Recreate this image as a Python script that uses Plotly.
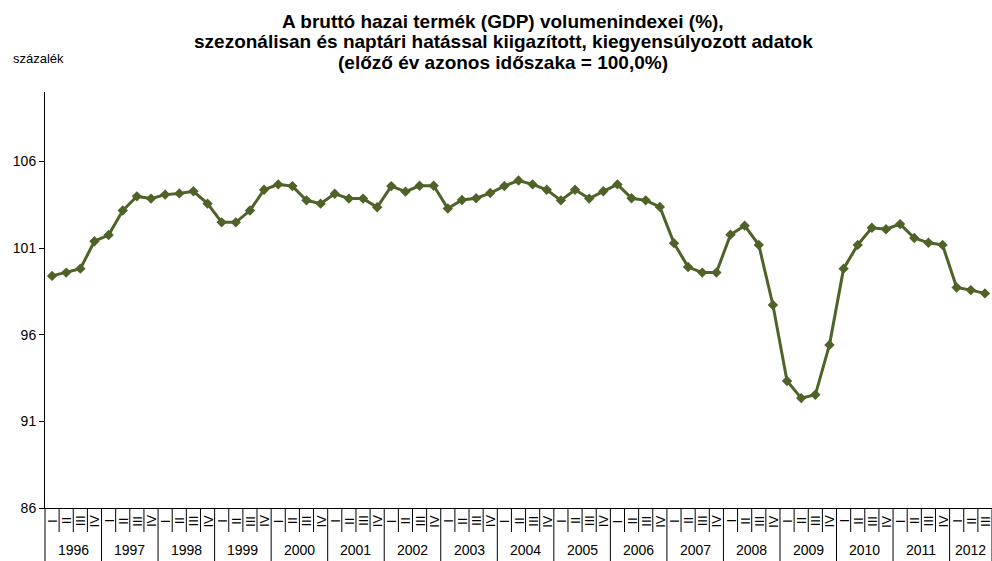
import plotly.graph_objects as go

years = [str(y) for y in range(1996, 2013)]
quarter_labels = ["I", "II", "III", "IV"]
n_quarters_last_year = 3

gdp_index = [
    99.39, 99.58, 99.81, 101.39,
    101.75, 103.16, 103.98, 103.85,
    104.08, 104.15, 104.27, 103.56,
    102.48, 102.48, 103.16, 104.36,
    104.67, 104.57, 103.75, 103.56,
    104.13, 103.85, 103.85, 103.35,
    104.57, 104.25, 104.59, 104.59,
    103.28, 103.77, 103.87, 104.17,
    104.57, 104.89, 104.67, 104.36,
    103.75, 104.36, 103.85, 104.27,
    104.67, 103.87, 103.75, 103.37,
    101.28, 99.90, 99.58, 99.58,
    101.77, 102.29, 101.18, 97.71,
    93.33, 92.34, 92.53, 95.41,
    99.81, 101.18, 102.17, 102.08,
    102.38, 101.58, 101.30, 101.18,
    98.72, 98.57, 98.38,
]

y_ticks = [86, 91, 96, 101, 106]

title_lines = [
    "A bruttó hazai termék (GDP) volumenindexei (%),",
    "szezonálisan és naptári hatással kiigazított, kiegyensúlyozott adatok",
    "(előző év azonos időszaka = 100,0%)",
]
y_unit_label = "százalék"

# build category structure
cat_year = []
cat_quarter = []
for yi, yr in enumerate(years):
    nq = 4 if yi < len(years) - 1 else n_quarters_last_year
    for q in range(nq):
        cat_year.append(yr)
        cat_quarter.append(quarter_labels[q])
x_idx = list(range(len(gdp_index)))

LINE = "#4F6228"
FONT = "Liberation Sans, Arial, sans-serif"

W, H = 992, 561
ML, MR, MT, MB = 45, 0, 92, 53
plot_h = H - MT - MB
plot_w = W - ML - MR

fig = go.Figure()
fig.add_trace(go.Scatter(
    x=x_idx, y=gdp_index, mode="lines+markers",
    line=dict(color=LINE, width=3),
    marker=dict(symbol="diamond", size=8, color=LINE),
    showlegend=False, hoverinfo="y",
))

shapes = []
annotations = []
def py(px_y):
    return (H - MB - px_y) / plot_h
def px(px_x):
    return (px_x - ML) / plot_w

# category boundaries
n = len(x_idx)
for k in range(1, n + 1):
    xb = k - 0.5
    if k % 4 == 0 or k == n:
        y1 = py(H)
    else:
        y1 = py(532)
    shapes.append(dict(type="line", xref="x", yref="paper", x0=xb, x1=xb,
                       y0=0, y1=y1, line=dict(color="black", width=1), layer="above"))
shapes.append(dict(type="line", xref="paper", yref="paper", x0=0, x1=0,
                   y0=0, y1=py(H), line=dict(color="black", width=1)))

for i, q in enumerate(cat_quarter):
    annotations.append(dict(x=i, y=py(521), xref="x", yref="paper", text=q,
                            textangle=-90, showarrow=False,
                            font=dict(family=FONT, size=13, color="black"),
                            xanchor="center", yanchor="middle"))
start = 0
for yr in years:
    cnt = cat_year.count(yr)
    annotations.append(dict(x=start + (cnt - 1) / 2, y=py(550), xref="x", yref="paper",
                            text=yr, showarrow=False,
                            font=dict(family=FONT, size=14, color="black"),
                            xanchor="center", yanchor="middle"))
    start += cnt

annotations.append(dict(x=px(11), y=py(58), xref="paper", yref="paper",
                        text=y_unit_label, showarrow=False, xanchor="left", yanchor="middle",
                        font=dict(family=FONT, size=13, color="black")))

for j, (line, ypx) in enumerate(zip(title_lines, [21, 41.5, 62])):
    annotations.append(dict(x=px(503), y=py(ypx), xref="paper", yref="paper",
                            text="<b>" + line + "</b>", showarrow=False,
                            xanchor="center", yanchor="middle",
                            font=dict(family=FONT, size=19, color="black")))

fig.update_layout(
    width=W, height=H,
    margin=dict(l=ML, r=MR, t=MT, b=MB),
    paper_bgcolor="white", plot_bgcolor="white",
    xaxis=dict(range=[-0.5, n - 0.5], showticklabels=False, ticks="",
               showgrid=False, zeroline=False, showline=True,
               linecolor="black", linewidth=1),
    yaxis=dict(range=[86, 110], tickvals=y_ticks, ticks="outside", ticklen=5,
               tickcolor="black", showgrid=False, zeroline=False, showline=True,
               linecolor="black", linewidth=1,
               tickfont=dict(family=FONT, size=14, color="black")),
    shapes=shapes, annotations=annotations,
    font=dict(family=FONT),
)

fig.write_html("out.html", config={"displayModeBar": False},
               post_script="document.body.style.margin='0';document.body.style.overflow='hidden';")
